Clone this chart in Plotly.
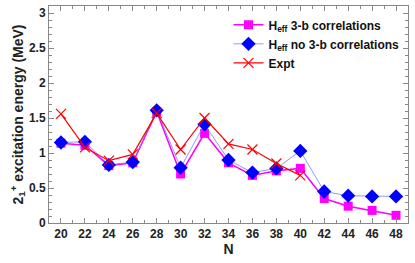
import plotly.graph_objects as go

N = [20, 22, 24, 26, 28, 30, 32, 34, 36, 38, 40, 42, 44, 46, 48]
heff_3b = [1.14, 1.11, 0.82, 0.86, 1.59, 0.70, 1.28, 0.86, 0.68, 0.745, 0.78, 0.35, 0.24, 0.18, 0.11]
heff_no3b = [1.15, 1.16, 0.83, 0.87, 1.61, 0.79, 1.41, 0.90, 0.72, 0.78, 1.03, 0.45, 0.39, 0.38, 0.38]
N_expt = [20, 22, 24, 26, 28, 30, 32, 34, 36, 38, 40]
expt = [1.56, 1.08, 0.89, 0.98, 1.57, 1.05, 1.50, 1.13, 1.05, 0.85, 0.68]
x_ticks = [20, 22, 24, 26, 28, 30, 32, 34, 36, 38, 40, 42, 44, 46, 48]
y_ticks = [0, 0.5, 1, 1.5, 2, 2.5, 3]

fig = go.Figure()
fig.add_trace(go.Scatter(
    x=N, y=heff_3b, mode="lines+markers", name="<b>H<sub>eff</sub> 3-b correlations</b>",
    line=dict(color="#ff00ff", width=1.5),
    marker=dict(symbol="square", size=9, color="#ff00ff")))
fig.add_trace(go.Scatter(
    x=N, y=heff_no3b, mode="lines+markers", name="<b>H<sub>eff</sub> no 3-b correlations</b>",
    line=dict(color="#7080ff", width=0.8),
    marker=dict(symbol="diamond", size=11, color="#0000ff")))
fig.add_trace(go.Scatter(
    x=N_expt, y=expt, mode="lines+markers", name="<b>Expt</b>",
    line=dict(color="#ff0000", width=1.2),
    marker=dict(symbol="x-thin", size=10, line=dict(color="#ff0000", width=1.2), color="#ff0000")))

font = dict(family="Liberation Sans, Arial, sans-serif", size=12, color="#222222")
fig.update_layout(
    width=415, height=263,
    margin=dict(l=49, r=7, t=6, b=40, autoexpand=False),
    paper_bgcolor="white", plot_bgcolor="white",
    font=font,
    showlegend=True,
    legend=dict(x=0.5, y=0.98, xanchor="left", yanchor="top", bgcolor="rgba(0,0,0,0)",
                font=dict(family="Liberation Sans, Arial, sans-serif", size=12, color="#111111"),
                itemwidth=30, tracegroupgap=0),
)
axis_common = dict(showline=True, linecolor="#888888", linewidth=1, mirror="ticks",
                   ticks="inside", tickcolor="#888888", ticklen=5, showgrid=False, zeroline=False,
                   automargin=False)
fig.update_xaxes(range=[19, 49], tickvals=x_ticks, ticktext=["<b>%d</b>" % v for v in x_ticks],
                 title=dict(text="<b>N</b>", standoff=2),
                 minor=dict(ticks="inside", ticklen=3, dtick=1, tickcolor="#888888"),
                 **axis_common)
fig.update_yaxes(range=[0, 3.1], tickvals=y_ticks,
                 ticktext=["<b>%g</b>" % v for v in y_ticks],
                 title=dict(text="<b>2<sub>1</sub><sup>+</sup> excitation energy (MeV)</b>", standoff=2),
                 minor=dict(ticks="inside", ticklen=3, dtick=0.1, tickcolor="#888888"),
                 **axis_common)
fig.write_html("out.html", config={"displayModeBar": False},
               post_script="document.body.style.margin='0';document.body.style.overflow='hidden';")
